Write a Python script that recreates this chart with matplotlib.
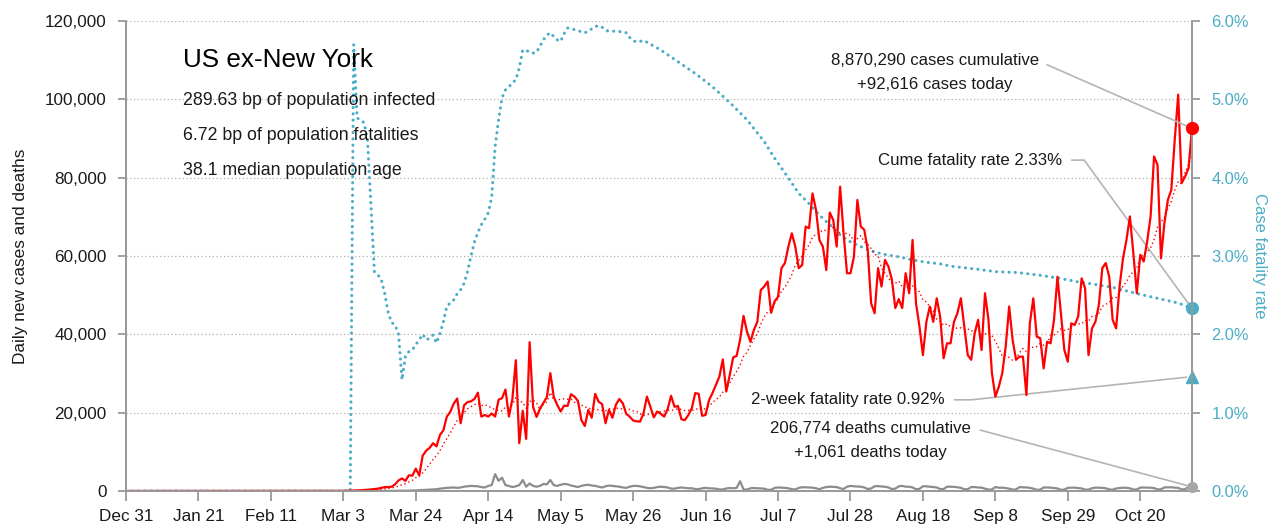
import numpy as np
import pandas as pd
import matplotlib
matplotlib.use("Agg")
import matplotlib.pyplot as plt

plt.rcParams['font.family'] = ['Liberation Sans', 'DejaVu Sans']

# ==========================================
# data
# ==========================================
first_day = "2019-12-31"
series_start = "2020-03-01"   # daily values below start here, zero before
last_day = "2020-11-04"

cases_mar = [10, 20, 30, 50, 70, 100, 130, 180, 250, 300, 400, 500, 600, 800, 1000, 1000,
             1100, 1700, 2700, 3200, 2600, 4000, 3900, 5700, 4000, 9000, 10300, 11000,
             12200, 11400, 14300]
cases_apr = [15500, 19000, 20200, 22300, 23600, 17300, 21900, 22700, 22900, 23500, 25100,
             19000, 19400, 19000, 19800, 19000, 23300, 23700, 25900, 19000, 23500, 33400,
             12200, 20500, 13300, 38000, 21500, 18900, 21000, 22500]
cases_may = [24000, 30100, 24000, 22000, 20300, 21800, 21700, 24700, 24100, 23000, 18100,
             16600, 20700, 18700, 24800, 22800, 22200, 17300, 20700, 18700, 22000, 23500,
             22400, 19700, 19000, 18000, 17800, 17700, 19800, 24100, 21500]
cases_jun = [18800, 20300, 19700, 19000, 20900, 24300, 21500, 21700, 18300, 18100, 19400,
             21100, 25000, 24800, 19200, 19400, 23200, 25000, 27100, 29200, 33600, 25400,
             29600, 34100, 34500, 38600, 44700, 40700, 38100, 41100]
cases_jul = [43200, 51300, 52200, 53500, 45500, 48400, 49600, 56900, 58200, 62400, 65800,
             62400, 56900, 57700, 67500, 67100, 76000, 71800, 64100, 62400, 56400, 71100,
             69200, 62400, 77700, 65800, 55600, 55600, 59800, 74300, 67500]
cases_aug = [66700, 61600, 47900, 45400, 56900, 52200, 59000, 57300, 54000, 46700, 49000,
             46700, 55600, 50500, 64100, 47900, 42000, 34700, 43200, 47100, 43200, 49200,
             44500, 33900, 37700, 37700, 43200, 45400, 49200, 42000, 34700]
cases_sep = [33500, 40300, 43700, 36000, 50500, 43700, 30100, 24100, 26600, 30100, 36900,
             47100, 38600, 33500, 34300, 34300, 24500, 42800, 49200, 39400, 39000, 31300,
             38100, 37700, 43700, 54700, 45400, 36000, 33000, 42800]
cases_oct = [42400, 44500, 54300, 51800, 34700, 41500, 43200, 47500, 56900, 58200, 54700,
             43700, 41500, 52200, 59400, 64100, 70100, 60700, 50500, 60300, 58600, 63700,
             70100, 85400, 83300, 59400, 68400, 74300, 76900, 89700, 101200]
cases_nov = [78600, 80300, 82400, 92616]

deaths_mar = [0, 1, 2, 3, 5, 3, 5, 4, 5, 6, 8, 5, 10, 12, 15, 22, 30, 40, 55, 70, 80, 95,
              120, 160, 200, 250, 300, 350, 400, 450, 600]
deaths_apr = [700, 800, 850, 900, 800, 900, 1100, 1200, 1300, 1250, 1200, 1000, 900, 1300,
              1500, 4300, 2600, 3400, 1500, 1300, 1000, 1200, 1500, 2800, 1100, 1900, 1300,
              1100, 1300, 1800]
deaths_may = [1700, 2800, 1500, 1300, 1600, 1800, 1700, 1400, 1200, 1000, 1300, 1500, 1600,
              1400, 1300, 1100, 900, 1200, 1400, 1300, 1200, 1100, 900, 800, 1100, 1300,
              1300, 1200, 1000, 800, 700]
deaths_jun = [800, 1000, 1100, 1000, 900, 600, 600, 800, 900, 800, 700, 700, 500, 450, 700,
              800, 700, 650, 600, 400, 400, 650, 750, 700, 800, 2500, 400, 350, 700, 750]
deaths_jul = [700, 650, 600, 300, 300, 800, 900, 850, 800, 700, 450, 400, 800, 950, 950, 900,
              850, 700, 450, 800, 1000, 1100, 1050, 1000, 700, 500, 1100, 1300, 1200, 1150,
              1100]
deaths_aug = [900, 500, 650, 1200, 1250, 1150, 1100, 900, 500, 600, 1200, 1300, 1100, 1100,
              900, 450, 550, 1200, 1200, 1100, 1000, 900, 500, 500, 1100, 1100, 1050, 950,
              800, 450, 450]
deaths_sep = [1000, 1000, 900, 850, 600, 350, 400, 1000, 850, 850, 750, 600, 350, 400, 1000,
              950, 900, 800, 600, 300, 350, 900, 900, 850, 750, 650, 300, 350, 800, 850]
deaths_oct = [850, 750, 650, 350, 350, 700, 850, 850, 800, 700, 400, 350, 650, 750, 850, 800,
              700, 350, 400, 850, 900, 850, 850, 750, 400, 450, 900, 950, 950, 850, 800]
deaths_nov = [400, 450, 1100, 1061]

# cumulative case fatality rate, % (right axis)
cfr_dates = ["2019-12-31", "2020-03-05", "2020-03-06", "2020-03-07", "2020-03-08",
             "2020-03-09", "2020-03-10", "2020-03-11", "2020-03-12", "2020-03-13",
             "2020-03-14", "2020-03-15", "2020-03-16", "2020-03-17", "2020-03-18",
             "2020-03-19", "2020-03-20", "2020-03-21", "2020-03-22", "2020-03-23",
             "2020-03-24", "2020-03-25", "2020-03-26", "2020-03-27", "2020-03-28",
             "2020-03-29", "2020-03-30", "2020-03-31", "2020-04-01", "2020-04-02",
             "2020-04-03", "2020-04-04", "2020-04-05", "2020-04-06", "2020-04-07",
             "2020-04-08", "2020-04-09", "2020-04-10", "2020-04-11", "2020-04-12",
             "2020-04-13", "2020-04-14", "2020-04-15", "2020-04-16", "2020-04-17",
             "2020-04-18", "2020-04-19", "2020-04-20", "2020-04-21", "2020-04-22",
             "2020-04-23", "2020-04-24", "2020-04-25", "2020-04-26", "2020-04-27",
             "2020-04-28", "2020-04-29", "2020-04-30", "2020-05-01", "2020-05-02",
             "2020-05-03", "2020-05-04", "2020-05-05", "2020-05-06", "2020-05-07",
             "2020-05-08", "2020-05-09", "2020-05-10", "2020-05-11", "2020-05-12",
             "2020-05-13", "2020-05-14", "2020-05-15", "2020-05-16", "2020-05-17",
             "2020-05-18", "2020-05-19", "2020-05-21", "2020-05-23", "2020-05-24",
             "2020-05-25", "2020-05-26", "2020-05-27", "2020-05-29", "2020-05-30",
             "2020-06-01", "2020-06-03", "2020-06-08", "2020-06-13", "2020-06-18",
             "2020-06-23", "2020-06-28", "2020-07-03", "2020-07-06", "2020-07-09",
             "2020-07-11", "2020-07-13", "2020-07-16", "2020-07-18", "2020-07-20",
             "2020-07-23", "2020-07-25", "2020-07-28", "2020-07-31", "2020-08-02",
             "2020-08-05", "2020-08-08", "2020-08-11", "2020-08-15", "2020-08-19",
             "2020-08-23", "2020-08-26", "2020-09-03", "2020-09-08", "2020-09-14",
             "2020-09-20", "2020-09-26", "2020-10-02", "2020-10-08", "2020-10-13",
             "2020-10-19", "2020-10-25", "2020-10-31", "2020-11-04"]
cfr_values = [0.0, 0.0, 5.70, 4.76, 4.74,
              4.70, 4.48, 3.65, 2.80, 2.76,
              2.70, 2.52, 2.28, 2.15, 2.12,
              2.00, 1.42, 1.72, 1.78, 1.80,
              1.87, 1.93, 2.00, 1.93, 1.95,
              1.99, 1.89, 2.01, 2.16, 2.36,
              2.40, 2.44, 2.52, 2.57, 2.65,
              2.80, 3.00, 3.18, 3.30, 3.40,
              3.47, 3.55, 3.75, 4.40, 4.74,
              5.02, 5.12, 5.16, 5.21, 5.25,
              5.40, 5.63, 5.62, 5.61, 5.59,
              5.60, 5.68, 5.76, 5.82, 5.85,
              5.80, 5.76, 5.74, 5.84, 5.91,
              5.90, 5.89, 5.88, 5.86, 5.85,
              5.87, 5.90, 5.93, 5.94, 5.92,
              5.88, 5.87, 5.87, 5.86, 5.85,
              5.79, 5.75, 5.73, 5.75, 5.73,
              5.68, 5.63, 5.48, 5.33, 5.16,
              4.96, 4.74, 4.46, 4.25, 4.06,
              3.93, 3.80, 3.67, 3.57, 3.48,
              3.36, 3.27, 3.18, 3.12, 3.08,
              3.04, 3.01, 2.99, 2.95, 2.92,
              2.90, 2.87, 2.83, 2.80, 2.79,
              2.76, 2.72, 2.67, 2.63, 2.59,
              2.52, 2.46, 2.40, 2.33]

two_week_marker = 1.46   # where the 2-week rate triangle sits on the right axis

title = "US ex-New York"
stats_lines = ["289.63 bp of population infected",
               "6.72 bp of population fatalities",
               "38.1 median population age"]
cases_note = "8,870,290 cases cumulative\n+92,616 cases today"
cfr_note = "Cume fatality rate 2.33%"
two_week_note = "2-week fatality rate 0.92%"
deaths_note = "206,774 deaths cumulative\n+1,061 deaths today"

# ==========================================
# build the series
# ==========================================
full_idx = pd.date_range(first_day, last_day, freq="D")
cases_all = (cases_mar + cases_apr + cases_may + cases_jun + cases_jul + cases_aug
             + cases_sep + cases_oct + cases_nov)
deaths_all = (deaths_mar + deaths_apr + deaths_may + deaths_jun + deaths_jul + deaths_aug
              + deaths_sep + deaths_oct + deaths_nov)
cases = pd.Series(cases_all, index=pd.date_range(series_start, periods=len(cases_all)))
deaths = pd.Series(deaths_all, index=pd.date_range(series_start, periods=len(deaths_all)))
cases = cases.reindex(full_idx, fill_value=0)
deaths = deaths.reindex(full_idx, fill_value=0)
cases_avg = cases.rolling(7, min_periods=1).mean()
cfr = pd.Series(cfr_values, index=pd.to_datetime(cfr_dates))

RED = "#ff0000"
TEAL = "#4bacc6"
GREY = "#8c8c8c"
AXIS = "#9a9a9a"
LINK = "#b4b4b4"
INK = "#1a1a1a"

# ==========================================
# figure
# ==========================================
fig = plt.figure(figsize=(12.73, 5.27), dpi=100)
ax = fig.add_axes([126 / 1273, 36 / 527, 1066 / 1273, 470 / 527])
ax2 = ax.twinx()

ax.set_zorder(ax2.get_zorder() + 1)
ax.patch.set_visible(False)

ax.yaxis.grid(True, linestyle=(0, (1, 2)), color="#b0b0b0", linewidth=0.9)
ax.set_axisbelow(True)

ax2.plot(cfr.index, cfr.values, color=TEAL, linewidth=2.2,
         linestyle=(0, (0.05, 2.0)), dash_capstyle="round")
ax.plot(deaths.index, deaths.values, color=GREY, linewidth=1.6)
ax.plot(cases_avg.index, cases_avg.values, color=RED, linewidth=1.0,
        linestyle=(0, (1, 2)))
ax.plot(cases.index, cases.values, color=RED, linewidth=1.6)

end = full_idx[-1]
ax.plot([end], [cases.iloc[-1]], "o", color=RED, markersize=8.5, clip_on=False, zorder=5)
ax.plot([end], [deaths.iloc[-1]], "o", color="#a6a6a6", markersize=7, clip_on=False, zorder=5)
ax2.plot([end], [cfr.iloc[-1]], "o", color=TEAL, markersize=8.5, clip_on=False, zorder=5)
ax2.plot([end], [two_week_marker], "^", color=TEAL, markersize=9, clip_on=False, zorder=5)

ax.set_xlim(full_idx[0], end)
ax.set_ylim(0, 120000)
ax2.set_ylim(0, 6)

xticks = pd.date_range(first_day, periods=15, freq="21D")
ax.set_xticks(xticks)
ax.set_xticklabels([f"{d:%b} {d.day}" for d in xticks])
ax.set_yticks(np.arange(0, 120001, 20000))
ax.set_yticklabels([f"{v:,.0f}" for v in np.arange(0, 120001, 20000)])
ax2.set_yticks(np.arange(0, 6.01, 1))
ax2.set_yticklabels([f"{v:.1f}%" for v in np.arange(0, 6.01, 1)])

for a in (ax, ax2):
    for s in a.spines.values():
        s.set_color(AXIS)
        s.set_linewidth(1.3)
    a.spines["top"].set_visible(False)
ax.tick_params(axis="x", length=7, width=1.3, color=AXIS, labelsize=12.3, pad=6,
               labelcolor=INK)
ax.tick_params(axis="y", length=6, width=1.3, color=AXIS, labelsize=12.3, pad=8,
               labelcolor=INK)
ax2.tick_params(axis="y", length=6, width=1.3, color=AXIS, labelsize=11.8, pad=8,
                labelcolor=TEAL)

ax.set_ylabel("Daily new cases and deaths", fontsize=12.4, labelpad=12, color=INK)
ax2.set_ylabel("Case fatality rate", fontsize=12.0, color=TEAL, rotation=270, labelpad=13)

# header text block
ax.text(0.0535, 0.917, title, transform=ax.transAxes, fontsize=18.8,
        va="center", ha="left", color="#000000")
for i, line in enumerate(stats_lines):
    ax.text(0.0535, 0.830 - i * 0.0745, line, transform=ax.transAxes,
            fontsize=12.8, va="center", ha="left", color=INK)

note_kw = dict(fontsize=12.1, color=INK, linespacing=1.75)
ax.annotate(cases_note, xy=(end, cases.iloc[-1]), xytext=(0.759, 0.891),
            textcoords="axes fraction", ha="center", va="center", **note_kw,
            arrowprops=dict(arrowstyle="-", color=LINK, lw=1.2, relpos=(1, 0.78),
                            shrinkA=4, shrinkB=4))
ax2.annotate(cfr_note, xy=(end, cfr.iloc[-1]), xytext=(0.878, 0.704),
             textcoords="axes fraction", ha="right", va="center", **note_kw,
             arrowprops=dict(arrowstyle="-", color=LINK, lw=1.2, relpos=(1, 0.5),
                             shrinkA=5, shrinkB=4,
                             connectionstyle="angle,angleA=0,angleB=126,rad=0"))
ax2.annotate(two_week_note, xy=(end, two_week_marker), xytext=(0.768, 0.194),
             textcoords="axes fraction", ha="right", va="center", **note_kw,
             arrowprops=dict(arrowstyle="-", color=LINK, lw=1.2, relpos=(1, 0.5),
                             shrinkA=5, shrinkB=4,
                             connectionstyle="angle,angleA=0,angleB=186,rad=0"))
ax.annotate(deaths_note, xy=(end, deaths.iloc[-1]), xytext=(0.698, 0.1085),
            textcoords="axes fraction", ha="center", va="center", **note_kw,
            arrowprops=dict(arrowstyle="-", color=LINK, lw=1.2, relpos=(1, 0.78),
                            shrinkA=5, shrinkB=4,
                            connectionstyle="angle,angleA=0,angleB=165,rad=0"))

fig.savefig("out.png", dpi=100)
